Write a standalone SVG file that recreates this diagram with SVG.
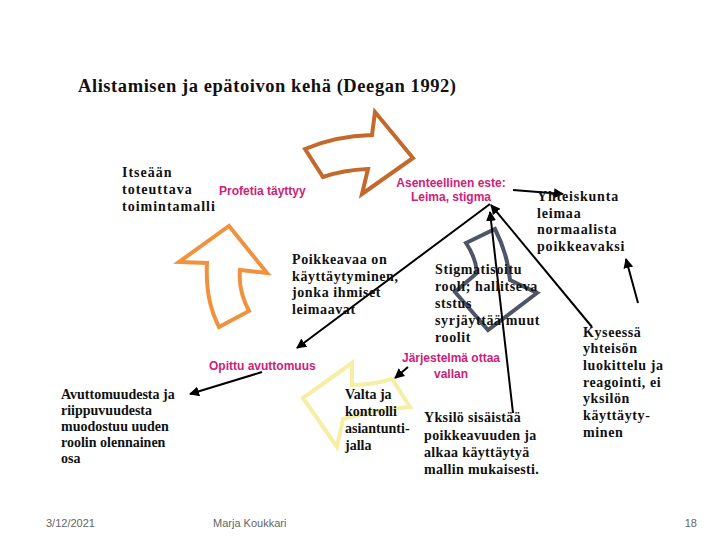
<svg xmlns="http://www.w3.org/2000/svg" width="720" height="540" viewBox="0 0 720 540">
<style>
.t{font-family:"Liberation Serif","Times New Roman",serif;font-weight:bold;font-size:14px;fill:#111}
.m{font-family:"Liberation Sans",Arial,sans-serif;font-weight:bold;font-size:12px;fill:#cc2277}
.f{font-family:"Liberation Sans",Arial,sans-serif;font-size:11px;fill:#666}
.ar{fill:#fff;stroke-width:4;stroke-linejoin:miter}
.ln{stroke:#000;stroke-width:2;fill:none;marker-end:url(#ah)}
</style>
<defs>
<marker id="ah" viewBox="0 0 10 10" refX="9" refY="5" markerWidth="5" markerHeight="5" orient="auto" markerUnits="strokeWidth">
<path d="M0,0 L10,5 L0,10 Z" fill="#000"/>
</marker>
</defs>
<rect width="720" height="540" fill="#fff"/>
<text x="78" y="92" font-family="Liberation Serif,serif" font-weight="bold" font-size="18.5" textLength="378" lengthAdjust="spacing" fill="#111">Alistamisen ja epätoivon kehä (Deegan 1992)</text>

<g id="arrow-top">
<path class="ar" stroke="#c4692c" d="M305,149 Q335,136 372,135 L375,112 L413,158 L362,194 L368,169 Q343,170 323,177 Z"/>
</g>
<g id="arrow-left">
<path class="ar" stroke="#f0913e" d="M229,226 L267,273 L240,270 Q238,290 249,311 L219,327 Q205,300 207,263 L179,262 Z"/>
</g>
<g id="arrow-gray">
<path class="ar" stroke="#4d5566" d="M466,243 L495,229 Q508,255 510,280 L537,293 L488,330 L455,292 L477,273 Q476,258 466,243 Z"/>
</g>
<g id="arrow-yellow">
<path class="ar" stroke="#f7eea6" d="M352,363 L303,398 L337,447 L343,419 Q375,410 410,407 L392,379 Q372,385 352,385 Z"/>
</g>

<g id="connectors">
<line class="ln" x1="490" y1="204" x2="297" y2="348"/>
<line class="ln" x1="592" y1="327" x2="491" y2="205"/>
<line class="ln" x1="513" y1="413" x2="490" y2="212"/>
<line class="ln" x1="513" y1="190" x2="563" y2="194"/>
<line class="ln" x1="638" y1="303" x2="626" y2="259"/>
<line class="ln" x1="262" y1="372" x2="190" y2="394"/>
<line class="ln" x1="408" y1="367" x2="395" y2="378"/>
</g>

<g id="n-itseaan">
<text class="t" x="122" style="letter-spacing:1px"><tspan x="122" y="177">Itseään</tspan><tspan x="122" y="194">toteuttava</tspan><tspan x="122" y="211">toimintamalli</tspan></text>
</g>
<g id="n-profetia">
<text class="m" x="219" y="195">Profetia täyttyy</text>
</g>
<g id="n-asenteellinen">
<text class="m" text-anchor="middle"><tspan x="451" y="187">Asenteellinen este:</tspan><tspan x="451" y="201">Leima, stigma</tspan></text>
</g>
<g id="n-yhteiskunta">
<text class="t" style="letter-spacing:0.8px"><tspan x="537" y="201">Yhteiskunta</tspan><tspan x="537" y="218">leimaa</tspan><tspan x="537" y="234">normaalista</tspan><tspan x="537" y="251">poikkeavaksi</tspan></text>
</g>
<g id="n-poikkeavaa">
<text class="t" style="letter-spacing:0.6px"><tspan x="292" y="264">Poikkeavaa on</tspan><tspan x="292" y="281">käyttäytyminen,</tspan><tspan x="292" y="297">jonka ihmiset</tspan><tspan x="292" y="314">leimaavat</tspan></text>
</g>
<g id="n-stigmatisoitu">
<text class="t" style="letter-spacing:0.6px"><tspan x="435" y="274">Stigmatisoitu</tspan><tspan x="435" y="291">rooli; hallitseva</tspan><tspan x="435" y="308">ststus</tspan><tspan x="435" y="325">syrjäyttää muut</tspan><tspan x="435" y="342">roolit</tspan></text>
</g>
<g id="n-jarjestelma">
<text class="m" text-anchor="middle"><tspan x="451" y="362">Järjestelmä ottaa</tspan><tspan x="451" y="378">vallan</tspan></text>
</g>
<g id="n-opittu">
<text class="m" x="209" y="370">Opittu avuttomuus</text>
</g>
<g id="n-valta">
<text class="t"><tspan x="345" y="399">Valta ja</tspan><tspan x="345" y="416">kontrolli</tspan><tspan x="345" y="433">asiantunti-</tspan><tspan x="345" y="450">jalla</tspan></text>
</g>
<g id="n-yksilo">
<text class="t" style="letter-spacing:0.35px"><tspan x="424" y="422">Yksilö sisäistää</tspan><tspan x="424" y="440">poikkeavuuden ja</tspan><tspan x="424" y="457">alkaa käyttäytyä</tspan><tspan x="424" y="474">mallin mukaisesti.</tspan></text>
</g>
<g id="n-avuttomuudesta">
<text class="t"><tspan x="61" y="399">Avuttomuudesta ja</tspan><tspan x="61" y="415">riippuvuudesta</tspan><tspan x="61" y="431">muodostuu uuden</tspan><tspan x="61" y="447">roolin olennainen</tspan><tspan x="61" y="463">osa</tspan></text>
</g>
<g id="n-kyseessa">
<text class="t" style="letter-spacing:0.6px"><tspan x="583" y="337">Kyseessä</tspan><tspan x="583" y="353">yhteisön</tspan><tspan x="583" y="370">luokittelu ja</tspan><tspan x="583" y="387">reagointi, ei</tspan><tspan x="583" y="403">yksilön</tspan><tspan x="583" y="420">käyttäyty-</tspan><tspan x="583" y="437">minen</tspan></text>
</g>

<g id="footer">
<text class="f" x="46" y="527">3/12/2021</text>
<text class="f" x="213" y="527">Marja Koukkari</text>
<text class="f" x="697" y="527" text-anchor="end">18</text>
</g>
</svg>
